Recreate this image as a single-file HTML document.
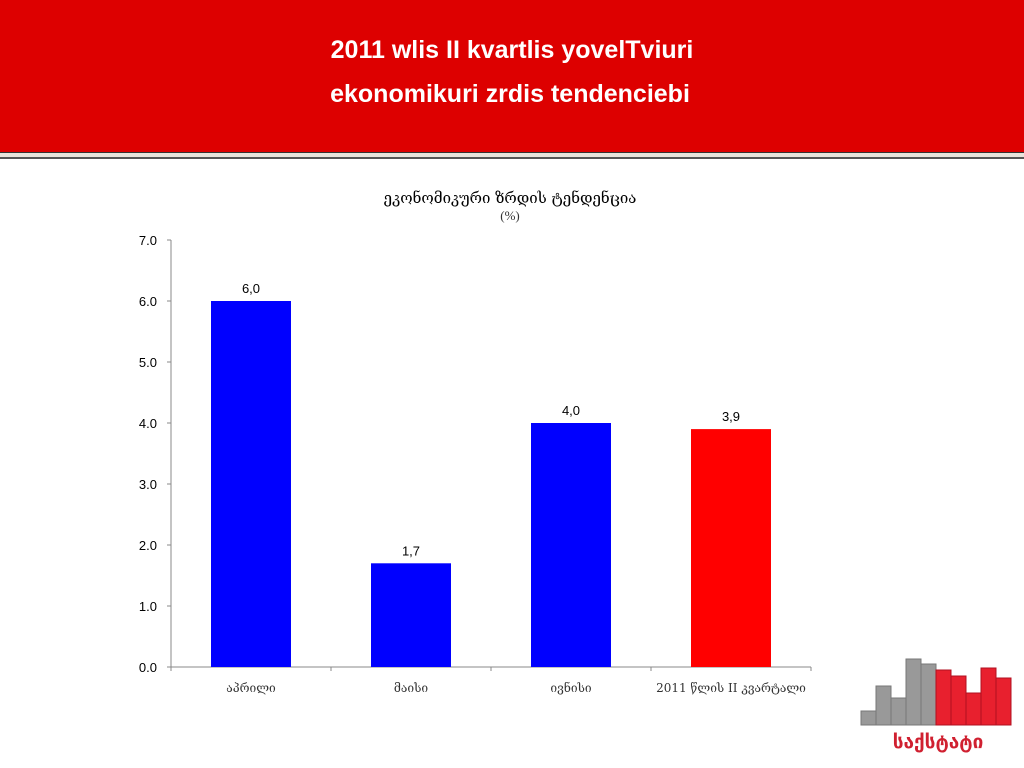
<!DOCTYPE html>
<html><head><meta charset="utf-8"><style>
body{margin:0;width:1024px;height:768px;background:#fff;overflow:hidden;font-family:"Liberation Sans",sans-serif;position:relative}
#hdr{position:absolute;left:0;top:0;width:1024px;height:152px;background:#dd0000}
#hdr div{color:#fff;font-weight:bold;font-size:25px;text-align:center;position:absolute;width:1024px}
#bar1{position:absolute;left:0;top:152px;width:1024px;height:4px;background:#e8e4dc;border-top:1px solid #333;border-bottom:2px solid #555}
</style></head><body>
<div id="hdr">
<div style="top:36px">2011 wlis II kvartlis yovelTviuri</div>
<div style="top:80px;left:-2px">ekonomikuri zrdis tendenciebi</div>
</div>
<div id="bar1"></div>
<svg id="chart" width="1024" height="768" style="position:absolute;left:0;top:0"></svg>
<svg width="160" height="112" style="position:absolute;left:858px;top:656px">
<g fill="#999" stroke="#777" stroke-width="1">
<rect x="3" y="55" width="15" height="14"/><rect x="18" y="30" width="15" height="39"/><rect x="33" y="42" width="15" height="27"/><rect x="48" y="3" width="15" height="66"/><rect x="63" y="8" width="15" height="61"/></g>
<g fill="#e8202e" stroke="#b01020" stroke-width="1">
<rect x="78" y="14" width="15" height="55"/><rect x="93" y="20" width="15" height="49"/><rect x="108" y="37" width="15" height="32"/><rect x="123" y="12" width="15" height="57"/><rect x="138" y="22" width="15" height="47"/></g>
<text x="80" y="92" font-size="19" font-weight="bold" fill="#d02030" text-anchor="middle" font-family="DejaVu Sans,sans-serif">საქსტატი</text>
</svg>
<script>
const categories=["აპრილი","მაისი","ივნისი","2011 წლის II კვარტალი"];
const values=[6.0,1.7,4.0,3.9];
const labels=["6,0","1,7","4,0","3,9"];
const colors=["#0000ff","#0000ff","#0000ff","#ff0000"];
const ticks=[0,1,2,3,4,5,6,7];
const NS="http://www.w3.org/2000/svg",svg=document.getElementById('chart');
const x0=171,x1=811,yB=667,yT=240,ymax=7;
const ys=v=>yB-(v/ymax)*(yB-yT);
const bw=(x1-x0)/categories.length;
function mk(t,a,txt){const e=document.createElementNS(NS,t);for(const k in a)e.setAttribute(k,a[k]);if(txt!=null)e.textContent=txt;svg.appendChild(e);return e;}
let e;
e=mk('text',{x:510,y:203,'font-size':15,'text-anchor':'middle','font-family':'DejaVu Serif,serif'},'ეკონომიკური ზრდის ტენდენცია');


e=mk('text',{x:510,y:220,'font-size':13,'text-anchor':'middle','font-family':'Liberation Serif,serif',fill:'#333'},'(%)');


e=mk('line',{x1:x0,y1:yT,x2:x0,y2:yB,stroke:'#888'});


e=mk('line',{x1:x0,y1:yB,x2:x1,y2:yB,stroke:'#888'});


ticks.forEach(t=>{const y=ys(t);
e=mk('line',{x1:x0-4,y1:y,x2:x0,y2:y,stroke:'#888'});


e=mk('text',{x:x0-14,y:y+5,'font-size':13,'text-anchor':'end'},t.toFixed(1));

});
for(let i=0;i<=categories.length;i++){const x=x0+i*bw;
e=mk('line',{x1:x,y1:yB,x2:x,y2:yB+4,stroke:'#888'});

}
categories.forEach((c,i)=>{const cx=x0+bw*(i+0.5);
e=mk('rect',{x:cx-40,y:ys(values[i]),width:80,height:yB-ys(values[i]),fill:colors[i]});


e=mk('text',{x:cx,y:ys(values[i])-8,'font-size':13,'text-anchor':'middle'},labels[i]);


e=mk('text',{x:cx,y:692,'font-size':12,'text-anchor':'middle','font-family':'DejaVu Serif,serif',fill:'#333'},c);

});
</script>
</body></html>
